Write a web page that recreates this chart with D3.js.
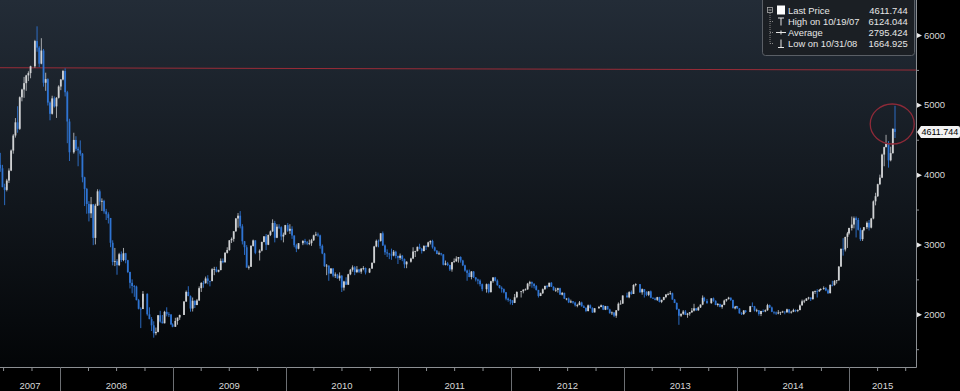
<!DOCTYPE html>
<html>
<head>
<meta charset="utf-8">
<script src="https://cdnjs.cloudflare.com/ajax/libs/d3/7.8.5/d3.min.js"></script>
<style>
	html, body { margin: 0; padding: 0; background: #000; overflow: hidden; }
	svg { display: block; font-family: "Liberation Sans", Arial, sans-serif; }
</style>
</head>
<body>
<div id="chart"></div>
<script>
// Weekly candles, one array per year: [MM-DD (week end), open, high, low, close]
var w2007 = [
	["06-22",4140,4312,4040,4091],["06-29",4091,4140,3820,3820],["07-06",3820,3870,3563,3781],
	["07-13",3781,3940,3760,3915],["07-20",3915,4090,3880,4058],["07-27",4058,4360,4050,4345],
	["08-03",4345,4580,4300,4560],["08-10",4560,4810,4530,4749],["08-17",4749,4980,4600,4656],
	["08-24",4656,5120,4640,5108],["08-31",5108,5230,5050,5219],["09-07",5219,5400,5100,5310],
	["09-14",5310,5430,5200,5421],["09-21",5421,5480,5340,5454],["09-28",5454,5560,5380,5552],
	["10-12",5552,5930,5530,5913],["10-19",5913,6124,5760,5819],["10-26",5819,5840,5540,5589],
	["11-02",5589,5954,5580,5777],["11-09",5777,5800,5260,5316],["11-16",5316,5460,5200,5368],
	["11-23",5368,5380,4990,5032],["11-30",5032,5050,4778,4871],["12-07",4871,5130,4860,5092],
	["12-14",5092,5120,4960,4977],["12-21",4977,5110,4812,5101],["12-28",5101,5280,5090,5262]
];
var w2008 = [
	["01-04",5262,5370,5210,5362],["01-11",5362,5500,5350,5484],["01-18",5484,5522,5120,5180],
	["01-25",5180,5200,4450,4761],["02-01",4761,4800,4195,4320],["02-15",4320,4600,4300,4497],
	["02-22",4497,4550,4340,4370],["02-29",4370,4400,4120,4348],["03-07",4348,4490,4270,4300],
	["03-14",4300,4310,3890,3962],["03-21",3962,3970,3550,3796],["03-28",3796,3810,3440,3580],
	["04-04",3580,3620,3330,3446],["04-11",3446,3680,3380,3575],["04-18",3575,3580,2990,3094],
	["04-25",3094,3583,3000,3557],["05-02",3557,3790,3550,3761],["05-09",3761,3786,3560,3613],
	["05-16",3613,3660,3480,3624],["05-23",3624,3640,3440,3474],["05-30",3474,3510,3350,3433],
	["06-06",3433,3460,3300,3379],["06-13",3379,3380,2960,3024],["06-20",3024,3060,2700,2748],
	["06-27",2748,2950,2690,2760],["07-04",2760,2790,2566,2704],["07-11",2704,2880,2690,2860],
	["07-18",2860,2900,2750,2777],["07-25",2777,2950,2760,2874],["08-01",2874,2880,2730,2775],
	["08-08",2775,2780,2590,2605],["08-15",2605,2610,2370,2451],["08-22",2451,2500,2300,2405],
	["08-29",2405,2420,2250,2397],["09-05",2397,2410,2200,2202],["09-12",2202,2220,2070,2079],
	["09-19",2079,2100,1802,2075],["09-26",2075,2333,2180,2293],["10-10",2293,2300,1980,2000],
	["10-17",2000,2100,1930,1930],["10-24",1930,1960,1760,1842],["10-31",1842,1900,1665,1729],
	["11-07",1729,1810,1700,1748],["11-14",1748,1990,1740,1986],["11-21",1986,2050,1880,1896],
	["11-28",1896,1990,1870,1871],["12-05",1871,2050,1870,2035],["12-12",2035,2100,1970,2000],
	["12-19",2000,2030,1960,1998],["12-26",1998,1999,1850,1854],["12-31",1854,1870,1814,1821]
];
var w2009 = [
	["01-09",1821,1950,1820,1904],["01-16",1904,1950,1850,1954],["01-23",1954,1995,1920,1990],
	["02-06",1990,2190,1990,2182],["02-13",2182,2340,2180,2320],["02-20",2320,2402,2260,2260],
	["02-27",2260,2270,2037,2082],["03-06",2082,2240,2040,2193],["03-13",2193,2200,2090,2133],
	["03-20",2133,2220,2130,2198],["03-27",2198,2400,2190,2374],["04-03",2374,2460,2320,2449],
	["04-10",2449,2480,2380,2445],["04-17",2445,2540,2440,2513],["04-24",2513,2560,2430,2478],
	["05-01",2478,2480,2400,2477],["05-08",2477,2660,2470,2645],["05-15",2645,2680,2560,2646],
	["05-22",2646,2680,2600,2610],["05-29",2610,2640,2600,2633],["06-05",2633,2800,2630,2765],
	["06-12",2765,2800,2730,2745],["06-19",2745,2890,2740,2880],["06-26",2880,2960,2870,2920],
	["07-03",2920,3060,2910,3060],["07-10",3060,3100,3020,3080],["07-17",3080,3190,3040,3189],
	["07-24",3189,3380,3180,3372],["07-31",3372,3450,3240,3412],["08-07",3412,3478,3230,3260],
	["08-14",3260,3290,3000,3046],["08-21",3046,3050,2850,2960],["08-28",2960,2990,2680,2667],
	["09-04",2667,2700,2640,2680],["09-11",2680,2990,2680,2979],["09-18",2979,3070,2970,3058],
	["09-25",3058,3060,2860,2880],["10-09",2880,2930,2770,2911],["10-16",2911,3040,2900,3036],
	["10-23",3036,3120,3030,3116],["10-30",3116,3150,2920,2996],["11-06",2996,3140,2990,3137],
	["11-13",3137,3200,3120,3187],["11-20",3187,3360,3180,3308],["11-27",3308,3338,3030,3096],
	["12-04",3096,3290,3090,3254],["12-11",3254,3290,3220,3247],["12-18",3247,3260,3060,3114],
	["12-25",3114,3170,3030,3140],["12-31",3140,3280,3140,3277]
];
var w2010 = [
	["01-08",3277,3306,3180,3196],["01-15",3196,3290,3150,3224],["01-22",3224,3260,3080,3128],
	["01-29",3128,3130,2960,2989],["02-05",2989,3010,2890,2939],["02-12",2939,3020,2930,3018],
	["02-26",3018,3060,2990,3051],["03-05",3051,3080,3000,3031],["03-12",3031,3050,2990,3013],
	["03-19",3013,3070,2990,3019],["03-26",3019,3080,2980,3060],["04-02",3060,3140,3050,3131],
	["04-09",3131,3181,3120,3143],["04-16",3143,3170,3110,3130],["04-23",3130,3140,2940,2980],
	["04-30",2980,3000,2860,2870],["05-07",2870,2880,2680,2688],["05-14",2688,2720,2560,2697],
	["05-21",2697,2700,2480,2583],["05-28",2583,2660,2580,2656],["06-04",2656,2660,2530,2553],
	["06-11",2553,2600,2520,2570],["06-18",2570,2580,2510,2515],["06-25",2515,2600,2480,2553],
	["07-02",2553,2560,2319,2382],["07-09",2382,2480,2340,2470],["07-16",2470,2530,2420,2424],
	["07-23",2424,2580,2420,2573],["07-30",2573,2650,2560,2638],["08-06",2638,2700,2610,2672],
	["08-13",2672,2690,2560,2604],["08-20",2604,2690,2590,2642],["08-27",2642,2650,2590,2610],
	["09-03",2610,2660,2580,2655],["09-10",2655,2690,2630,2663],["09-17",2663,2670,2570,2598],
	["09-30",2598,2660,2590,2655],["10-08",2655,2740,2650,2738],["10-15",2738,2980,2730,2971],
	["10-22",2971,3070,2960,3052],["10-29",3052,3070,2960,3051],["11-05",3051,3160,3040,3160],
	["11-12",3160,3186,2980,2985],["11-19",2985,3000,2850,2888],["11-26",2888,2930,2820,2871],
	["12-03",2871,2880,2790,2857],["12-10",2857,2940,2780,2841],["12-17",2841,2920,2830,2896],
	["12-24",2896,2910,2800,2835],["12-31",2835,2840,2720,2808]
];
var w2011 = [
	["01-07",2808,2870,2780,2839],["01-14",2839,2850,2760,2791],["01-21",2791,2800,2660,2715],
	["01-28",2715,2760,2660,2753],["02-11",2753,2810,2740,2799],["02-18",2799,2960,2790,2899],
	["02-25",2899,2910,2820,2905],["03-04",2905,2970,2900,2966],["03-11",2966,3010,2930,2938],
	["03-18",2938,2950,2870,2906],["03-25",2906,2990,2900,2977],["04-01",2977,2990,2920,2968],
	["04-08",2968,3040,2960,3030],["04-15",3030,3060,3000,3050],["04-22",3050,3067,2940,2959],
	["04-29",2959,2970,2900,2911],["05-06",2911,2920,2860,2863],["05-13",2863,2900,2850,2872],
	["05-20",2872,2880,2840,2858],["05-27",2858,2860,2700,2709],["06-03",2709,2770,2700,2728],
	["06-10",2728,2750,2690,2705],["06-17",2705,2710,2620,2642],["06-24",2642,2750,2610,2746],
	["07-01",2746,2800,2740,2759],["07-08",2759,2830,2750,2797],["07-15",2797,2820,2740,2820],
	["07-22",2820,2830,2740,2770],["07-29",2770,2780,2690,2701],["08-05",2701,2710,2610,2626],
	["08-12",2626,2640,2480,2593],["08-19",2593,2640,2530,2534],["08-26",2534,2620,2500,2612],
	["09-02",2612,2620,2520,2528],["09-09",2528,2530,2470,2498],["09-16",2498,2510,2430,2482],
	["09-23",2482,2500,2400,2431],["09-30",2431,2440,2330,2359],["10-14",2359,2440,2310,2431],
	["10-21",2431,2440,2300,2318],["10-28",2318,2480,2310,2473],["11-04",2473,2530,2450,2528],
	["11-11",2528,2536,2470,2481],["11-18",2481,2500,2410,2416],["11-25",2416,2420,2370,2380],
	["12-02",2380,2400,2310,2360],["12-09",2360,2370,2300,2315],["12-16",2315,2320,2200,2224],
	["12-23",2224,2240,2180,2205],["12-30",2205,2220,2140,2199]
];
var w2012 = [
	["01-06",2199,2200,2132,2163],["01-13",2163,2290,2160,2244],["01-20",2244,2330,2230,2319],
	["02-03",2319,2330,2240,2330],["02-10",2330,2360,2300,2351],["02-17",2351,2370,2340,2357],
	["02-24",2357,2450,2350,2439],["03-02",2439,2479,2400,2460],["03-09",2460,2470,2380,2439],
	["03-16",2439,2440,2370,2404],["03-23",2404,2420,2340,2349],["03-30",2349,2350,2240,2262],
	["04-06",2262,2310,2260,2302],["04-13",2302,2370,2290,2359],["04-20",2359,2410,2350,2406],
	["04-27",2406,2420,2370,2396],["05-04",2396,2450,2390,2452],["05-11",2452,2460,2390,2394],
	["05-18",2394,2400,2340,2344],["05-25",2344,2380,2320,2350],["06-01",2350,2380,2310,2373],
	["06-08",2373,2380,2280,2281],["06-15",2281,2320,2270,2306],["06-22",2306,2310,2220,2224],
	["06-29",2224,2230,2200,2225],["07-06",2225,2240,2160,2170],["07-13",2170,2210,2160,2185],
	["07-20",2185,2190,2150,2168],["07-27",2168,2180,2110,2128],["08-03",2128,2150,2100,2132],
	["08-10",2132,2190,2130,2169],["08-17",2169,2180,2110,2114],["08-24",2114,2130,2090,2092],
	["08-31",2092,2100,2030,2047],["09-07",2047,2140,2040,2128],["09-14",2128,2140,2080,2090],
	["09-21",2090,2100,2020,2026],["09-28",2026,2090,2029,2086],["10-12",2086,2120,2080,2105],
	["10-19",2105,2140,2100,2128],["10-26",2128,2130,2060,2066],["11-02",2066,2120,2060,2117],
	["11-09",2117,2120,2070,2069],["11-16",2069,2080,2010,2015],["11-23",2015,2040,1990,2026],
	["11-30",2026,2030,1959,1980],["12-07",1980,2060,1949,2057],["12-14",2057,2170,2050,2151],
	["12-21",2151,2200,2140,2153],["12-28",2153,2270,2150,2269]
];
var w2013 = [
	["01-11",2269,2310,2240,2243],["01-18",2243,2330,2230,2317],["01-25",2317,2340,2280,2291],
	["02-01",2291,2430,2290,2419],["02-08",2419,2444,2400,2432],["02-22",2432,2430,2310,2314],
	["03-01",2314,2370,2280,2359],["03-08",2359,2360,2240,2319],["03-15",2319,2330,2260,2278],
	["03-22",2278,2330,2260,2328],["03-29",2328,2340,2230,2237],["04-05",2237,2240,2220,2225],
	["04-12",2225,2240,2200,2207],["04-19",2207,2250,2190,2245],["04-26",2245,2250,2170,2177],
	["05-03",2177,2210,2160,2206],["05-10",2206,2250,2200,2246],["05-17",2246,2290,2230,2283],
	["05-24",2283,2310,2270,2288],["05-31",2288,2334,2280,2301],["06-07",2301,2310,2210,2211],
	["06-14",2211,2220,2160,2162],["06-21",2162,2170,2060,2073],["06-28",2073,2080,1849,1979],
	["07-05",1979,2010,1960,2007],["07-12",2007,2060,1990,2039],["07-19",2039,2060,1990,1992],
	["07-26",1992,2020,1950,2010],["08-02",2010,2030,1980,2029],["08-09",2029,2090,2020,2052],
	["08-16",2052,2150,2040,2085],["08-23",2085,2090,2050,2057],["08-30",2057,2110,2050,2098],
	["09-06",2098,2140,2090,2139],["09-13",2139,2270,2130,2236],["09-18",2236,2250,2180,2191],
	["09-27",2191,2220,2150,2160],["10-11",2160,2230,2150,2228],["10-18",2228,2240,2180,2193],
	["10-25",2193,2200,2130,2133],["11-01",2133,2160,2110,2149],["11-08",2149,2150,2100,2106],
	["11-15",2106,2140,2080,2135],["11-22",2135,2210,2130,2197],["11-29",2197,2220,2180,2220],
	["12-06",2220,2250,2210,2238],["12-13",2238,2240,2190,2204],["12-20",2204,2210,2100,2085],
	["12-27",2085,2120,2070,2101],["12-31",2101,2120,2100,2116]
];
var w2014 = [
	["01-03",2116,2120,2080,2083],["01-10",2083,2090,2010,2013],["01-17",2013,2030,1990,2004],
	["01-24",2004,2060,1990,2054],["01-30",2054,2060,2020,2033],["02-14",2033,2120,2030,2115],
	["02-21",2115,2170,2110,2113],["02-28",2113,2120,2040,2056],["03-07",2056,2080,2030,2057],
	["03-14",2057,2060,1980,2004],["03-21",2004,2050,1974,2047],["03-28",2047,2070,2030,2042],
	["04-04",2042,2070,2030,2058],["04-11",2058,2150,2050,2131],["04-18",2131,2140,2090,2098],
	["04-25",2098,2110,2030,2036],["05-02",2036,2040,2000,2026],["05-09",2026,2040,1990,2011],
	["05-16",2011,2060,2000,2026],["05-23",2026,2030,1990,2035],["05-30",2035,2050,2020,2039],
	["06-06",2039,2040,2000,2029],["06-13",2029,2080,2020,2071],["06-20",2071,2070,2010,2026],
	["06-27",2026,2050,2010,2036],["07-04",2036,2080,2030,2060],["07-11",2060,2070,2030,2047],
	["07-18",2047,2070,2030,2059],["07-25",2059,2140,2060,2126],["08-01",2126,2210,2130,2186],
	["08-08",2186,2210,2160,2194],["08-15",2194,2230,2190,2226],["08-22",2226,2250,2210,2240],
	["08-29",2240,2240,2190,2217],["09-05",2217,2330,2210,2326],["09-12",2326,2340,2290,2331],
	["09-19",2331,2360,2240,2329],["09-26",2329,2360,2320,2347],["09-30",2347,2370,2340,2364],
	["10-10",2364,2400,2350,2374],["10-17",2374,2390,2330,2341],["10-24",2341,2360,2290,2302],
	["10-31",2302,2430,2300,2420],["11-07",2420,2480,2400,2418],["11-14",2418,2490,2410,2478],
	["11-21",2478,2490,2440,2487],["11-28",2487,2690,2480,2683],["12-05",2683,2940,2680,2938],
	["12-12",2938,3090,2840,2928],["12-19",2928,3110,2900,3108],["12-26",3108,3180,2950,3158],
	["12-31",3158,3240,3140,3235]
];
var w2015 = [
	["01-09",3235,3400,3200,3285],["01-16",3285,3400,3230,3376],["01-23",3376,3400,3100,3351],
	["01-30",3351,3380,3200,3210],["02-06",3210,3240,3050,3076],["02-13",3076,3210,3050,3203],
	["02-17",3203,3250,3190,3247],["02-27",3247,3330,3220,3310],["03-06",3310,3350,3200,3241],
	["03-13",3241,3380,3230,3372],["03-20",3372,3630,3360,3617],["03-27",3617,3740,3560,3691],
	["04-03",3691,3870,3680,3863],["04-10",3863,4000,3850,3957],["04-17",3957,4300,3950,4287],
	["04-24",4287,4400,4120,4394],["04-30",4394,4570,4390,4441],["05-08",4441,4480,4100,4205],
	["05-15",4205,4400,4190,4308],["05-22",4308,4660,4300,4657],["05-29",4657,4986,4524,4612]
];

var yearBlocks = [[2007,w2007],[2008,w2008],[2009,w2009],[2010,w2010],[2011,w2011],
	[2012,w2012],[2013,w2013],[2014,w2014],[2015,w2015]];

var valueTicks = [2000, 3000, 4000, 5000, 6000];
var minorTicks = [1500, 2500, 3500, 4500, 5500];
var yearLabels = ["2007","2008","2009","2010","2011","2012","2013","2014","2015"];

var lastPrice = 4611.744;
var legendRows = [
	{ label: "Last Price",       value: "4611.744", icon: "square" },
	{ label: "High on 10/19/07", value: "6124.044", icon: "high" },
	{ label: "Average",          value: "2795.424", icon: "avg" },
	{ label: "Low on 10/31/08",  value: "1664.925", icon: "low" }
];

// user annotations: trend line and circle (date, value)
var trendLine = [["2007-06-21", 5531], ["2015-08-05", 5498]];
var circleMark = ["2015-05-20", 4725];

var W = 960, H = 391, plotW = 916, plotH = 367;
var parse = d3.timeParse("%Y-%m-%d");

var candles = [];
yearBlocks.forEach(function (b) {
	b[1].forEach(function (r) {
		candles.push({ date: parse(b[0] + "-" + r[0]), o: r[1], h: r[2], l: r[3], c: r[4] });
	});
});

var x = d3.scaleTime().domain([parse("2007-06-21"), parse("2015-08-05")]).range([0, plotW]);
var y = d3.scaleLinear().domain([1245, 6501]).range([plotH, 0]);

var svg = d3.select("#chart").append("svg").attr("width", W).attr("height", H);
var defs = svg.append("defs");

var grad = defs.append("linearGradient").attr("id", "bg")
	.attr("x1", 0).attr("y1", 0).attr("x2", 0).attr("y2", 1);
grad.append("stop").attr("offset", "0%").attr("stop-color", "#232c37");
grad.append("stop").attr("offset", "100%").attr("stop-color", "#030507");

defs.append("clipPath").attr("id", "clip")
	.append("rect").attr("width", plotW).attr("height", plotH);

svg.append("rect").attr("width", W).attr("height", H).attr("fill", "#000");
svg.append("rect").attr("width", plotW).attr("height", plotH).attr("fill", "url(#bg)");

// trend line
svg.append("line")
	.attr("x1", x(parse(trendLine[0][0]))).attr("y1", y(trendLine[0][1]))
	.attr("x2", x(parse(trendLine[1][0]))).attr("y2", y(trendLine[1][1]))
	.attr("stroke", "#9a2c38").attr("stroke-width", 1);

// candles
var upCol = "#cfd1d3", downCol = "#2f74d2";
var cg = svg.append("g").attr("clip-path", "url(#clip)");

cg.selectAll("line.wick").data(candles).enter().append("line")
	.attr("class", "wick")
	.attr("x1", function (d) { return x(d.date); })
	.attr("x2", function (d) { return x(d.date); })
	.attr("y1", function (d) { return y(d.h); })
	.attr("y2", function (d) { return y(d.l); })
	.attr("stroke", function (d) { return d.c >= d.o ? "#b4b7ba" : downCol; })
	.attr("stroke-width", 0.9);

cg.selectAll("rect.body").data(candles).enter().append("rect")
	.attr("class", "body")
	.attr("x", function (d) { return x(d.date) - 0.9; })
	.attr("width", 1.8)
	.attr("y", function (d) { return y(Math.max(d.o, d.c)); })
	.attr("height", function (d) { return Math.max(0.8, Math.abs(y(d.o) - y(d.c))); })
	.attr("fill", function (d) { return d.c >= d.o ? upCol : downCol; });

// circle annotation
svg.append("ellipse")
	.attr("cx", x(parse(circleMark[0]))).attr("cy", y(circleMark[1]))
	.attr("rx", 22).attr("ry", 20)
	.attr("fill", "none").attr("stroke", "#8e2a38").attr("stroke-width", 1.3);

// right axis
var axisCol = "#8c8f93";
svg.append("line").attr("x1", plotW + 0.5).attr("x2", plotW + 0.5)
	.attr("y1", 0).attr("y2", plotH + 0.5).attr("stroke", axisCol);

var yAxis = svg.append("g").attr("transform", "translate(" + plotW + ",0)")
	.call(d3.axisRight(y).tickValues(valueTicks).tickSize(0).tickPadding(8).tickFormat(d3.format("d")));
yAxis.select(".domain").remove();
yAxis.selectAll("text").attr("fill", "#d8d8d8").style("font-size", "9.5px");
yAxis.selectAll(".tick").append("path")
	.attr("d", "M1,-2.5L6,0L1,2.5Z").attr("fill", "#e8e8e8");

var yMinor = svg.append("g").attr("transform", "translate(" + plotW + ",0)")
	.call(d3.axisRight(y).tickValues(minorTicks).tickSize(3).tickFormat(""));
yMinor.select(".domain").remove();
yMinor.selectAll("line").attr("stroke", axisCol);

// last price tag
var ly = y(lastPrice);
svg.append("path")
	.attr("d", "M917," + ly + "L921," + (ly - 6) + "L958," + (ly - 6) + "Q960," + (ly - 6) + " 960," + (ly - 4) +
		"L960," + (ly + 4) + "Q960," + (ly + 6) + " 958," + (ly + 6) + "L921," + (ly + 6) + "Z")
	.attr("fill", "#f2f2f2");
svg.append("text").attr("x", 921.5).attr("y", ly + 3.3)
	.attr("fill", "#000").style("font-size", "9px").text(d3.format(".3f")(lastPrice));

// bottom axis
svg.append("line").attr("x1", 0).attr("x2", plotW + 0.5)
	.attr("y1", plotH + 0.5).attr("y2", plotH + 0.5).attr("stroke", axisCol);

var quarters = d3.timeMonth.every(3).range(x.domain()[0], x.domain()[1])
	.filter(function (d) { return d.getMonth() !== 0; });
var xAxis = svg.append("g").attr("transform", "translate(0," + plotH + ")")
	.call(d3.axisBottom(x).tickValues(quarters).tickSize(4).tickFormat(""));
xAxis.select(".domain").remove();
xAxis.selectAll("line").attr("stroke", axisCol);

var yearStarts = d3.timeYear.range(x.domain()[0], x.domain()[1]);
svg.selectAll("line.yearSep").data(yearStarts).enter().append("line")
	.attr("class", "yearSep")
	.attr("x1", function (d) { return Math.round(x(d)) + 0.5; })
	.attr("x2", function (d) { return Math.round(x(d)) + 0.5; })
	.attr("y1", plotH).attr("y2", H)
	.attr("stroke", "#6c6f73");

svg.selectAll("text.year").data(yearLabels).enter().append("text")
	.attr("class", "year")
	.attr("x", function (d) {
		var a = Math.max(0, x(parse(d + "-01-01")));
		var b = Math.min(plotW, x(parse((+d + 1) + "-01-01")));
		return (a + b) / 2;
	})
	.attr("y", 389)
	.attr("text-anchor", "middle")
	.attr("fill", "#d8d8d8")
	.style("font-size", "9.5px")
	.text(function (d) { return d; });

// legend
var lg = svg.append("g").attr("transform", "translate(762,0)");
lg.append("rect").attr("x", 0.5).attr("y", -4).attr("width", 152).attr("height", 59.5)
	.attr("rx", 3).attr("fill", "#1b1f24").attr("stroke", "#5a5f66");

var rowY = [10.5, 21.5, 32.5, 43.5];
lg.append("rect").attr("x", 5.5).attr("y", 7.5).attr("width", 5).attr("height", 5)
	.attr("fill", "none").attr("stroke", "#aaa").attr("stroke-width", 0.8);
lg.append("line").attr("x1", 6.5).attr("x2", 9.5).attr("y1", 10).attr("y2", 10).attr("stroke", "#ccc").attr("stroke-width", 0.8);
lg.append("line").attr("x1", 8).attr("x2", 8).attr("y1", 13).attr("y2", rowY[3])
	.attr("stroke", "#888").attr("stroke-dasharray", "1,1");
rowY.slice(1).forEach(function (ry) {
	lg.append("line").attr("x1", 8).attr("x2", 12).attr("y1", ry).attr("y2", ry)
		.attr("stroke", "#888").attr("stroke-dasharray", "1,1");
});

legendRows.forEach(function (r, i) {
	var ry = rowY[i];
	var ic = lg.append("g").attr("stroke", "#e6e6e6").attr("stroke-width", 1);
	if (r.icon === "square") {
		lg.append("rect").attr("x", 15).attr("y", ry - 5).attr("width", 8).attr("height", 9).attr("fill", "#fff");
	} else if (r.icon === "high") {
		ic.append("line").attr("x1", 16).attr("x2", 22).attr("y1", ry - 3.5).attr("y2", ry - 3.5);
		ic.append("line").attr("x1", 19).attr("x2", 19).attr("y1", ry - 3.5).attr("y2", ry + 4);
	} else if (r.icon === "avg") {
		ic.append("line").attr("x1", 14).attr("x2", 24).attr("y1", ry).attr("y2", ry);
		ic.append("line").attr("x1", 19).attr("x2", 19).attr("y1", ry - 2).attr("y2", ry + 2);
	} else {
		ic.append("line").attr("x1", 19).attr("x2", 19).attr("y1", ry - 4).attr("y2", ry + 4);
		ic.append("line").attr("x1", 16).attr("x2", 22).attr("y1", ry + 4).attr("y2", ry + 4);
	}
	lg.append("text").attr("x", 26).attr("y", ry + 3.6).attr("fill", "#e6e6e6")
		.style("font-size", "9.4px").text(r.label);
	lg.append("text").attr("x", 145.7).attr("y", ry + 3.6).attr("fill", "#e6e6e6")
		.attr("text-anchor", "end").style("font-size", "9.4px").text(r.value);
});
</script>
</body>
</html>
